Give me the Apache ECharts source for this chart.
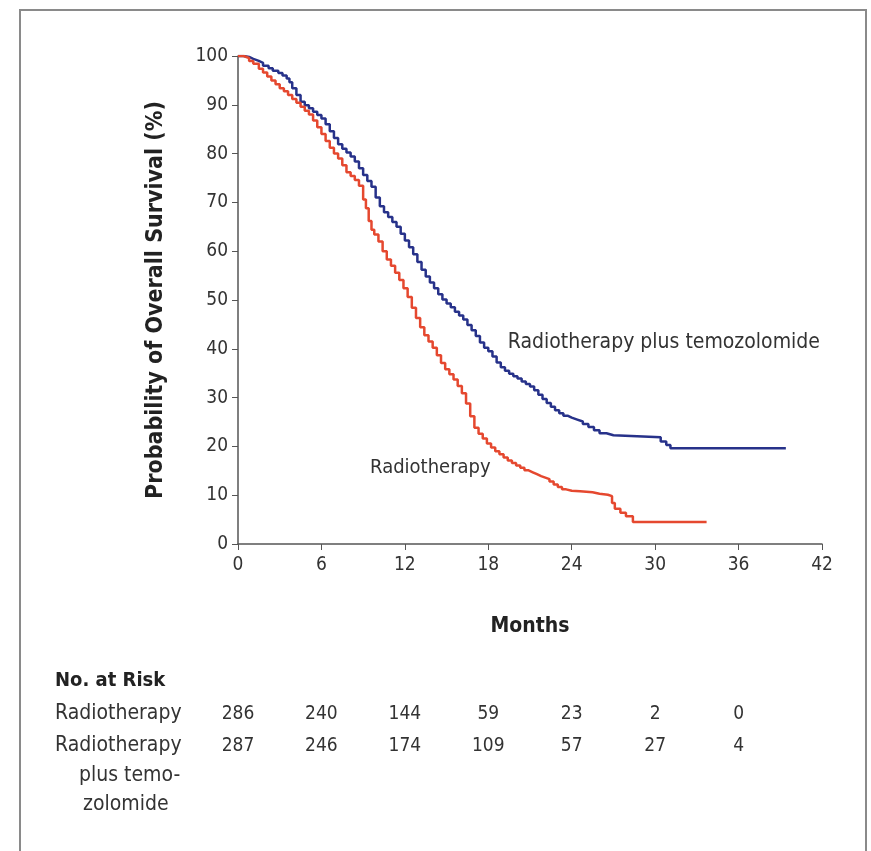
<!DOCTYPE html>
<html>
<head>
<meta charset="utf-8">
<script src="https://cdn.jsdelivr.net/npm/echarts@6/dist/echarts.min.js"></script>
<style>
  html, body { margin: 0; padding: 0; background: #fff; }
  #main { width: 871px; height: 851px; }
</style>
</head>
<body>
<div id="main"></div>
<script>
  // radiotherapy plus temozolomide (months, % surviving)
  var tmzMonths = [0, 0.4, 0.8, 1.1, 1.5, 1.8, 2.2, 2.5, 2.9, 3.2, 3.5, 3.7, 3.9, 4.2, 4.5, 4.8, 5.1, 5.4, 5.7, 6.0,
    6.3, 6.6, 6.9, 7.2, 7.5, 7.8, 8.1, 8.4, 8.7, 9.0, 9.3, 9.6, 9.9, 10.2, 10.5, 10.8, 11.1, 11.4, 11.7, 12.0,
    12.3, 12.6, 12.9, 13.2, 13.5, 13.8, 14.1, 14.4, 14.7, 15.0, 15.3, 15.6, 15.9, 16.2, 16.5, 16.8, 17.1, 17.4, 17.7, 18.0,
    18.3, 18.6, 18.9, 19.2, 19.5, 19.8, 20.1, 20.4, 20.7, 21.0, 21.3, 21.6, 21.9, 22.2, 22.5, 22.8, 23.1, 23.4, 23.7, 24.0,
    24.4, 24.8, 25.2, 25.6, 26.0, 26.5, 27.0, 30.4, 30.8, 31.1, 39.4];
  var tmzSurvival = [100, 99.8, 99.4, 99.0, 98.6, 98.0, 97.5, 97.0, 96.5, 96.0, 95.4, 94.6, 93.4, 92.0, 90.6, 89.9, 89.3, 88.6, 87.9, 87.2,
    86.0, 84.6, 83.2, 81.9, 81.0, 80.2, 79.4, 78.4, 77.0, 75.6, 74.4, 73.2, 71.0, 69.2, 68.0, 67.0, 66.0, 65.0, 63.6, 62.2,
    60.8, 59.4, 57.8, 56.2, 54.8, 53.6, 52.4, 51.2, 50.1, 49.3, 48.5, 47.6, 46.8, 46.0, 44.9, 43.8, 42.6, 41.3, 40.2, 39.5,
    38.4, 37.2, 36.2, 35.5, 34.9, 34.4, 33.9, 33.3, 32.8, 32.3, 31.5, 30.6, 29.7, 28.9, 28.1, 27.4, 26.8, 26.3, 25.9, 25.5,
    25.1, 24.6, 24.0, 23.3, 22.7, 22.3, 21.9, 21.0, 20.3, 19.6, 19.6];

  // radiotherapy alone
  var rtMonths = [0, 0.4, 0.8, 1.1, 1.5, 1.8, 2.1, 2.4, 2.7, 3.0, 3.3, 3.6, 3.9, 4.2, 4.5, 4.8, 5.1, 5.4, 5.7, 6.0,
    6.3, 6.6, 6.9, 7.2, 7.5, 7.8, 8.1, 8.4, 8.7, 9.0, 9.2, 9.4, 9.6, 9.8, 10.1, 10.4, 10.7, 11.0, 11.3, 11.6,
    11.9, 12.2, 12.5, 12.8, 13.1, 13.4, 13.7, 14.0, 14.3, 14.6, 14.9, 15.2, 15.5, 15.8, 16.1, 16.4, 16.7, 17.0, 17.3, 17.6,
    17.9, 18.2, 18.5, 18.8, 19.1, 19.4, 19.7, 20.0, 20.3, 20.6, 20.9, 21.2, 21.5, 21.8, 22.1, 22.4, 22.7, 23.0, 23.3, 23.6,
    24.0, 24.6, 25.5, 26.0, 26.6, 26.9, 27.1, 27.5, 27.9, 28.4, 33.7];
  var rtSurvival = [100, 99.6, 99.0, 98.4, 97.4, 96.6, 95.8, 95.0, 94.2, 93.4, 92.8, 92.0, 91.2, 90.4, 89.6, 88.8, 88.0, 86.8, 85.4, 84.0,
    82.6, 81.2, 80.0, 79.0, 77.6, 76.2, 75.4, 74.6, 73.4, 70.6, 68.8, 66.2, 64.4, 63.4, 62.0, 60.0, 58.3, 57.0, 55.6, 54.1,
    52.4, 50.6, 48.4, 46.3, 44.4, 42.8, 41.5, 40.2, 38.7, 37.1, 35.8, 34.8, 33.7, 32.4, 30.9, 28.8, 26.2, 23.8, 22.6, 21.6,
    20.6, 19.8, 19.0, 18.4, 17.7, 17.1, 16.6, 16.1, 15.6, 15.1, 14.7, 14.3, 13.9, 13.6, 13.3, 12.8, 12.2, 11.7, 11.2, 10.9,
    10.8, 10.6, 10.3, 10.1, 9.8, 8.4, 7.2, 6.4, 5.7, 4.5, 4.5];

  // number at risk table
  var riskMonths = [0, 6, 12, 18, 24, 30, 36];
  var riskRT = [286, 240, 144, 59, 23, 2, 0];
  var riskTMZ = [287, 246, 174, 109, 57, 27, 4];

  var narrow = '"Liberation Sans Narrow", "DejaVu Sans Condensed", "Liberation Sans", sans-serif';

  function pairs(xs, ys) {
    return xs.map(function (x, i) { return [x, ys[i]]; });
  }

  let myChart = echarts.init(document.getElementById('main'));
  let option = {
    backgroundColor: '#fff',
    animation: false,
    grid: { left: 238, top: 56, right: 49, bottom: 307 },
    xAxis: {
      type: 'value', min: 0, max: 42, interval: 6,
      name: 'Months', nameLocation: 'middle', nameGap: 72,
      nameTextStyle: { fontFamily: narrow, fontWeight: 'bold', fontSize: 21, color: '#222' },
      axisLine: { lineStyle: { color: '#555', width: 1.5 } },
      axisTick: { length: 6, lineStyle: { color: '#555' } },
      axisLabel: { fontFamily: narrow, fontSize: 19, color: '#333', margin: 12 },
      splitLine: { show: false }
    },
    yAxis: {
      type: 'value', min: 0, max: 100, interval: 10,
      name: 'Probability of Overall Survival (%)', nameLocation: 'middle', nameGap: 70, nameRotate: 90,
      nameTextStyle: { fontFamily: narrow, fontWeight: 'bold', fontSize: 23, color: '#222' },
      axisLine: { show: true, lineStyle: { color: '#555', width: 1.5 } },
      axisTick: { show: true, length: 6, lineStyle: { color: '#555' } },
      axisLabel: { fontFamily: narrow, fontSize: 19, color: '#333', margin: 10 },
      splitLine: { show: false }
    },
    series: [
      {
        name: 'Radiotherapy plus temozolomide', type: 'line', step: 'end', showSymbol: false,
        data: pairs(tmzMonths, tmzSurvival),
        lineStyle: { color: '#27328a', width: 2.5 }, itemStyle: { color: '#27328a' }
      },
      {
        name: 'Radiotherapy', type: 'line', step: 'end', showSymbol: false,
        data: pairs(rtMonths, rtSurvival),
        lineStyle: { color: '#e5482f', width: 2.5 }, itemStyle: { color: '#e5482f' }
      }
    ]
  };
  myChart.setOption(option);

  // annotations and the at-risk table, placed through the axis scale
  let txt = function (x, y, text, opts) {
    return {
      type: 'text', x: x, y: y,
      style: Object.assign({ text: text, fontFamily: narrow, fontSize: 20, fill: '#333', textVerticalAlign: 'middle' }, opts || {})
    };
  };
  let p1 = myChart.convertToPixel({ gridIndex: 0 }, [19.4, 41.3]);
  let p2 = myChart.convertToPixel({ gridIndex: 0 }, [9.5, 15.7]);
  let els = [
    { type: 'rect', shape: { x: 20, y: 10, width: 846, height: 860 }, style: { fill: 'none', stroke: '#8a8a8a', lineWidth: 2 } },
    txt(p1[0], p1[1], 'Radiotherapy plus temozolomide', { fontSize: 21 }),
    txt(p2[0], p2[1], 'Radiotherapy'),
    txt(55, 681, 'No. at Risk', { fontWeight: 'bold', fill: '#222' }),
    txt(55, 714, 'Radiotherapy', { fontSize: 21 }),
    txt(55, 746, 'Radiotherapy', { fontSize: 21 }),
    txt(79, 776, 'plus temo-', { fontSize: 21 }),
    txt(83, 805, 'zolomide', { fontSize: 21 })
  ];
  riskMonths.forEach(function (m, i) {
    let px = myChart.convertToPixel({ xAxisIndex: 0 }, m);
    els.push(txt(px, 714, String(riskRT[i]), { textAlign: 'center', fontSize: 19 }));
    els.push(txt(px, 746, String(riskTMZ[i]), { textAlign: 'center', fontSize: 19 }));
  });
  myChart.setOption({ graphic: els });
</script>
</body>
</html>
